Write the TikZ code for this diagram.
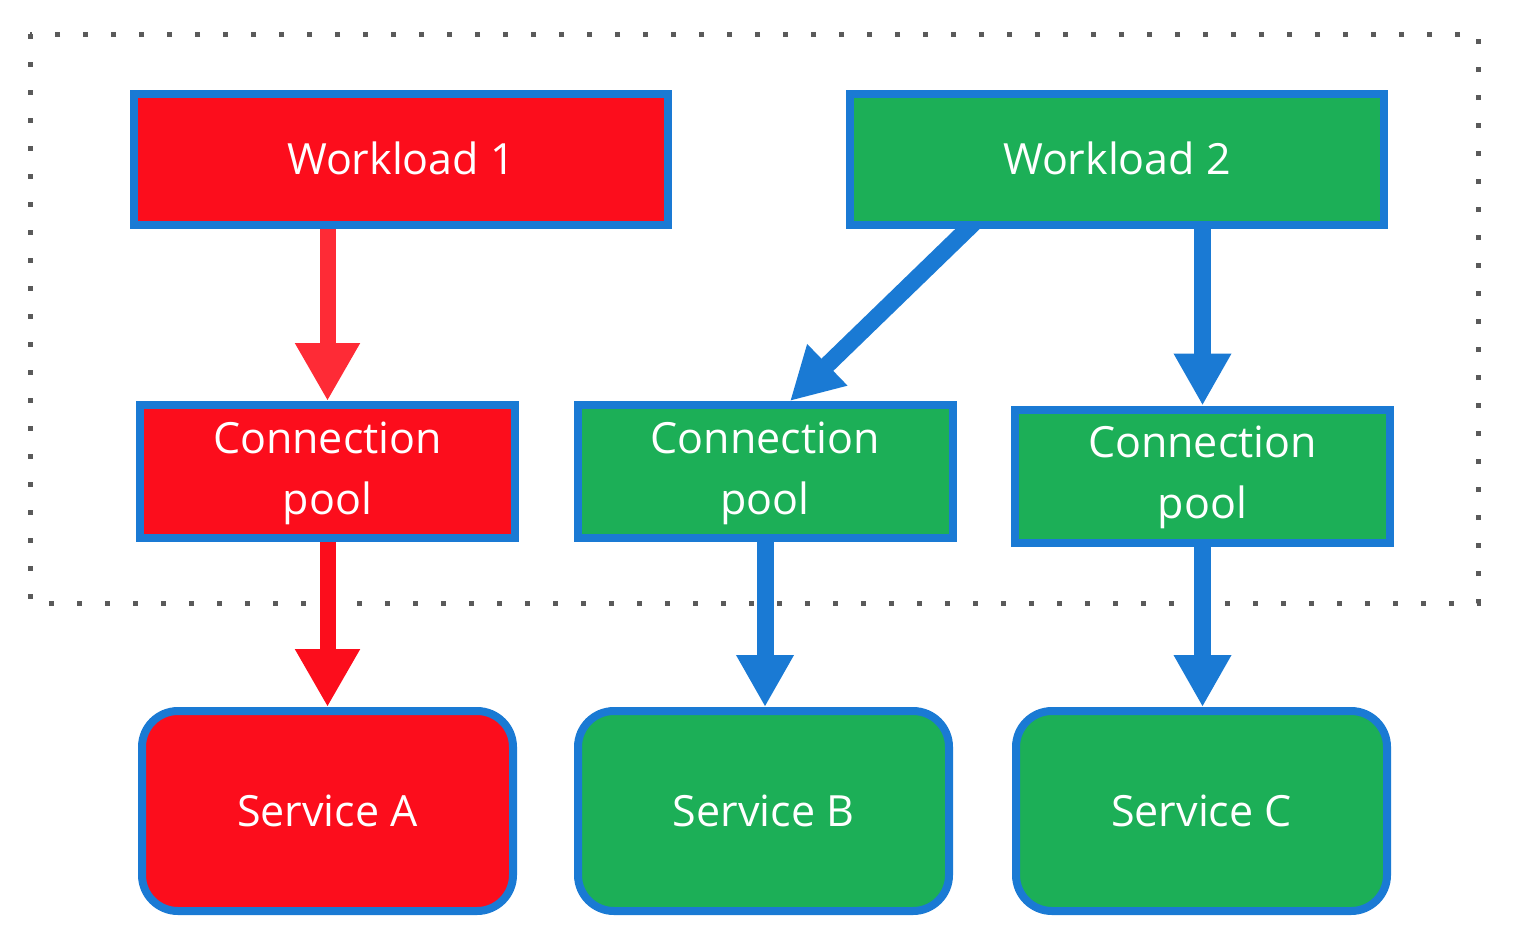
\documentclass[tikz,border=0pt]{standalone}
\usepackage{fontspec}
\setmainfont{Open Sans}
\usetikzlibrary{arrows.meta,calc}
\pgfdeclarelayer{bg}
\pgfsetlayers{bg,main}
\definecolor{bblue}{HTML}{1A7AD4}
\definecolor{gfill}{HTML}{1CAF57}
\definecolor{rfill}{HTML}{FC0D1C}
\definecolor{rlight}{HTML}{FE2B36}
\definecolor{dotgray}{HTML}{5A5A5A}
\newcommand{\pooltext}{\raisebox{-2pt}{\begin{tabular}{@{}c@{}}Connection\\pool\end{tabular}}}
\newcommand{\wltext}[1]{\raisebox{1.5pt}{#1}}
\begin{document}
\begin{tikzpicture}[x=0.5pt,y=-0.5pt,
  box/.style={draw=bblue,line width=4pt,inner sep=0pt,text=white,align=center,
    font=\fontsize{21.5}{30.5}\selectfont},
  redbox/.style={box,fill=rfill},
  greenbox/.style={box,fill=gfill},
  wl/.style={minimum width=267pt,minimum height=65.5pt},
  pool/.style={minimum width=187.5pt,minimum height=66.5pt},
  svc/.style={minimum width=185.5pt,minimum height=100pt,rounded corners=18pt},
  redarrow/.style={draw=#1,line width=8pt,-{Triangle[width=30.5pt,length=29pt]}},
  bluearrow/.style={draw=bblue,line width=8.5pt,-{Triangle[width=27pt,length=26pt]}},
  dotframe/.style={draw=dotgray,line width=2.5pt,line cap=butt,dash pattern=on 2.5pt off 11.5pt}]
\useasboundingbox (0,0) rectangle (1534,942);

\node[redbox,wl] (W1) at (401,159.5) {\wltext{Workload 1}};
\node[greenbox,wl] (W2) at (1117,159.5) {\wltext{Workload 2}};

\node[redbox,pool] (CPA) at (327.5,471.5) {\pooltext};
\node[greenbox,pool] (CPB) at (765,471.5) {\pooltext};
\node[greenbox,pool] (CPC) at (1202.5,476) {\pooltext};

\node[redbox,svc] (SA) at (327.5,811) {Service A};
\node[greenbox,svc] (SB) at (763.5,811) {Service B};
\node[greenbox,svc] (SC) at (1201.5,811) {Service C};

\begin{pgfonlayer}{bg}
  \coordinate (F1) at (30,34);
  \coordinate (F2) at (1478,603);
  \draw[dotframe] (F1) rectangle (F2);
  \draw[redarrow=rlight] (CPA.north |- W1.center) -- (CPA.north);
  \draw[redarrow=rfill] (CPA.center) -- (SA.north);
  \draw[bluearrow] ($(W2.south west)+(151.4,-29)$) -- ($(CPB.north)+(25,0)$);
  \draw[bluearrow] (CPC.north |- W2.center) -- (CPC.north);
  \draw[bluearrow] (CPB.center) -- (CPB.center |- SB.north);
  \draw[bluearrow] (CPC.center) -- (CPC.center |- SC.north);
\end{pgfonlayer}
\end{tikzpicture}
\end{document}
